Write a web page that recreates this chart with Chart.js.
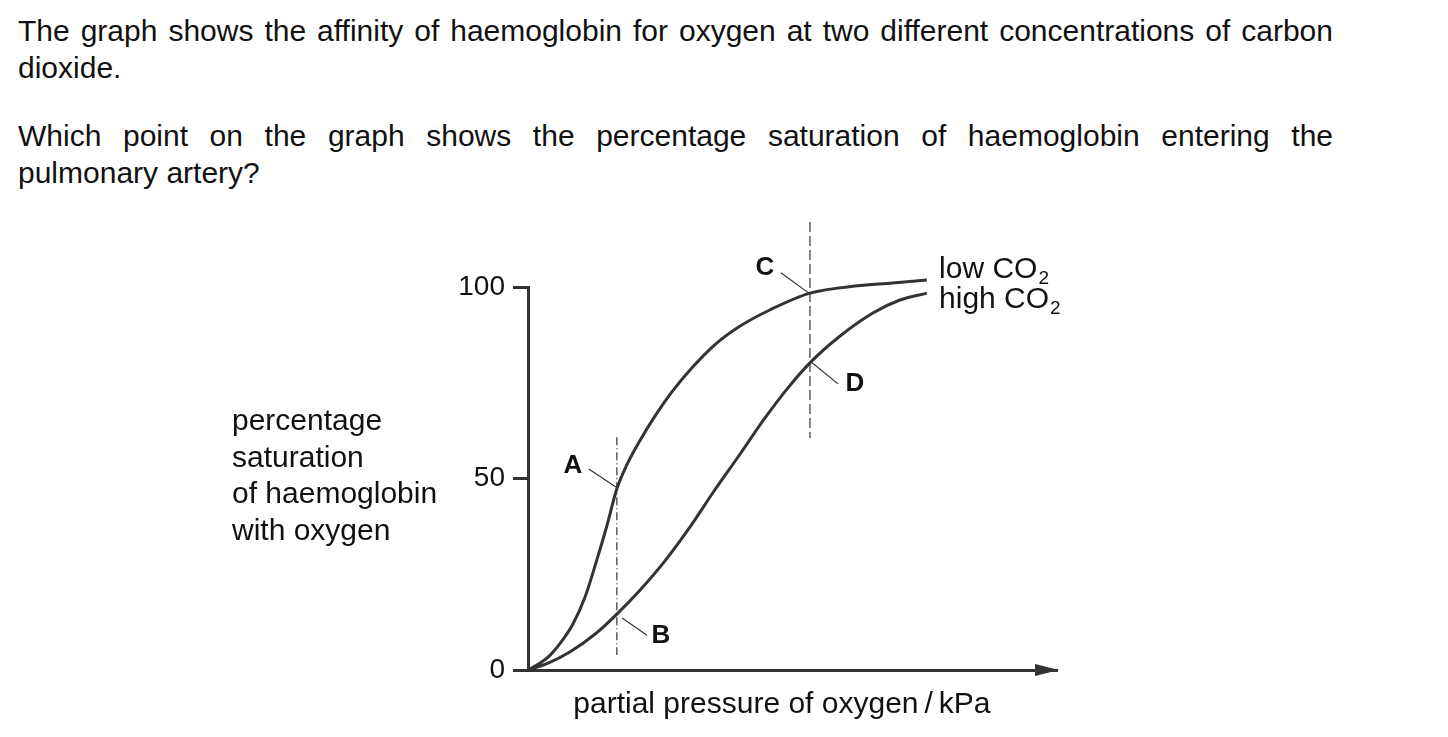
<!DOCTYPE html>
<html>
<head>
<meta charset="utf-8">
<script src="https://cdn.jsdelivr.net/npm/chart.js@4.4.1/dist/chart.umd.min.js"></script>
<style>
  html, body { margin: 0; padding: 0; background: #fff; }
  body { width: 1448px; height: 737px; position: relative; overflow: hidden; }
  #q { position: absolute; left: 18px; top: 12px; width: 1315px;
       font-family: 'Liberation Sans', Arial, sans-serif; font-size: 30px; line-height: 37px;
       color: #111; }
  #q p { margin: 0 0 31px 0; }
  #q .j { display: block; white-space: nowrap; text-align: justify; text-align-last: justify; }
  #c { position: absolute; left: 0; top: 0; }
</style>
</head>
<body>
<div id="q">
  <p><span class="j">The graph shows the affinity of haemoglobin for oxygen at two different concentrations of carbon</span>dioxide.</p>
  <p><span class="j" style="white-space: normal;">Which point on the graph shows the percentage saturation of haemoglobin entering the</span>pulmonary artery?</p>
</div>
<canvas id="c" width="1448" height="737"></canvas>
<script>
// ---- data (x: arbitrary pressure units, y: % saturation) ----
const lowCO2Pressure   = [0, 0.23, 0.42, 0.60, 0.85, 1.08, 1.30, 1.49, 1.68, 1.87, 2.12, 2.40, 2.72, 3.10, 3.53, 4.01, 4.57, 5.33, 6.22, 6.84, 7.54];
const lowCO2Saturation = [0, 1.8, 3.9, 6.8, 12.0, 19.1, 28.7, 37.6, 47.3, 53.6, 60.0, 66.3, 72.6, 78.9, 84.9, 89.8, 94.0, 98.4, 100.3, 101.0, 101.8];
const highCO2Pressure   = [0, 0.38, 0.79, 1.27, 1.68, 2.12, 2.59, 3.06, 3.53, 4.01, 4.48, 4.91, 5.33, 5.90, 6.52, 7.03, 7.54];
const highCO2Saturation = [0, 1.8, 4.7, 9.4, 14.6, 20.9, 28.5, 37.3, 47.0, 56.4, 65.8, 73.6, 80.2, 87.2, 93.2, 96.6, 98.4];

const yTickValues = [0, 50, 100];
const seriesNames = ['low CO', 'high CO'];
const seriesSub = '2';
const legendX = [7.77, 7.77];
const legendY = [102.3, 94.5];

const yTitleLines = ['percentage', 'saturation', 'of haemoglobin', 'with oxygen'];
const xTitle = 'partial pressure of oxygen\u2009/\u2009kPa';
const xTitleAt = 4.80;

// vertical reference lines [x, yTop, yBottom]
const dashedLine  = [5.33, 117, 60.6];
const dashDotLine = [1.68, 60.8, 3.9];

// point labels and their leader lines
const pointLabels  = ['A', 'B', 'C', 'D'];
const pointLabelX  = [0.85, 2.51, 4.48, 6.18];
const pointLabelY  = [53.3, 8.9, 105.0, 74.7];
const leaderFromX  = [1.15, 1.78, 4.78, 5.37];
const leaderFromY  = [52.5, 13.6, 103.7, 80.2];
const leaderToX    = [1.66, 2.25, 5.31, 5.86];
const leaderToY    = [47.8, 9.1, 98.4, 74.7];

// ---- styles ----
const INK = '#333333';
const TXT = '#111111';
const FONT = "'Liberation Sans', Arial, sans-serif";

const toPts = (xs, ys) => xs.map((x, i) => ({ x: x, y: ys[i] }));

const datasets = [
  { label: 'low CO2', data: toPts(lowCO2Pressure, lowCO2Saturation), borderColor: INK, borderWidth: 3,
    cubicInterpolationMode: 'monotone', pointRadius: 0, clip: false, fill: false },
  { label: 'high CO2', data: toPts(highCO2Pressure, highCO2Saturation), borderColor: INK, borderWidth: 3,
    cubicInterpolationMode: 'monotone', pointRadius: 0, clip: false, fill: false },
  { label: 'dashed', data: [{ x: dashedLine[0], y: dashedLine[1] }, { x: dashedLine[0], y: dashedLine[2] }],
    borderColor: INK, borderWidth: 1.2, borderDash: [10, 4], pointRadius: 0, clip: false },
  { label: 'dashdot', data: [{ x: dashDotLine[0], y: dashDotLine[1] }, { x: dashDotLine[0], y: dashDotLine[2] }],
    borderColor: INK, borderWidth: 1.2, borderDash: [8, 3, 1, 3], pointRadius: 0, clip: false }
];
pointLabels.forEach((p, i) => {
  datasets.push({ label: 'leader ' + p,
    data: [{ x: leaderFromX[i], y: leaderFromY[i] }, { x: leaderToX[i], y: leaderToY[i] }],
    borderColor: INK, borderWidth: 1.2, pointRadius: 0, clip: false });
});

const annotations = {
  id: 'annotations',
  afterDraw(chart) {
    const { ctx, chartArea, scales } = chart;
    const X = v => scales.x.getPixelForValue(v);
    const Y = v => scales.y.getPixelForValue(v);
    ctx.save();

    // arrow head on x axis
    ctx.fillStyle = INK;
    ctx.beginPath();
    ctx.moveTo(chartArea.right + 2, chartArea.bottom);
    ctx.lineTo(chartArea.right - 22, chartArea.bottom - 6);
    ctx.lineTo(chartArea.right - 22, chartArea.bottom + 6);
    ctx.closePath();
    ctx.fill();

    ctx.fillStyle = TXT;
    // point labels
    ctx.font = 'bold 26px ' + FONT;
    ctx.textAlign = 'center';
    ctx.textBaseline = 'middle';
    pointLabels.forEach((p, i) => ctx.fillText(p, X(pointLabelX[i]), Y(pointLabelY[i])));

    // series labels with subscript
    ctx.textAlign = 'left';
    ctx.textBaseline = 'alphabetic';
    seriesNames.forEach((n, i) => {
      ctx.font = '30px ' + FONT;
      const x = X(legendX[i]), y = Y(legendY[i]);
      ctx.fillText(n, x, y);
      const w = ctx.measureText(n).width;
      ctx.font = '19px ' + FONT;
      ctx.fillText(seriesSub, x + w + 1, y + 6);
    });

    // y-axis title (multi-line, left aligned)
    ctx.font = '30px ' + FONT;
    ctx.textBaseline = 'middle';
    const lh = 36.5;
    const cy = (chartArea.top + chartArea.bottom) / 2 - 2;
    const y0 = cy - lh * (yTitleLines.length - 1) / 2;
    yTitleLines.forEach((t, i) => ctx.fillText(t, chartArea.left - 296, y0 + i * lh));

    // x-axis title
    ctx.textAlign = 'center';
    ctx.fillText(xTitle, X(xTitleAt), chartArea.bottom + 35);
    ctx.restore();
  }
};

new Chart(document.getElementById('c'), {
  type: 'line',
  data: { datasets },
  options: {
    responsive: false,
    animation: false,
    devicePixelRatio: 1,
    layout: { padding: { left: 0, right: 391, top: 287, bottom: 0 } },
    plugins: { legend: { display: false }, tooltip: { enabled: false } },
    elements: { line: { tension: 0 } },
    scales: {
      x: {
        type: 'linear', min: 0, max: 10,
        afterFit(s) { s.height = 67; },
        border: { display: true, color: INK, width: 3 },
        grid: { display: false },
        ticks: { display: false }
      },
      y: {
        type: 'linear', min: 0, max: 100,
        afterFit(s) { s.width = 528; },
        afterBuildTicks(s) { s.ticks = yTickValues.map(v => ({ value: v })); },
        border: { display: true, color: INK, width: 3 },
        grid: { display: true, drawOnChartArea: false, drawTicks: true, tickLength: 15, tickWidth: 3, tickColor: INK },
        ticks: { padding: 8, color: TXT, font: { family: FONT, size: 28 } }
      }
    }
  },
  plugins: [annotations]
});
</script>
</body>
</html>
